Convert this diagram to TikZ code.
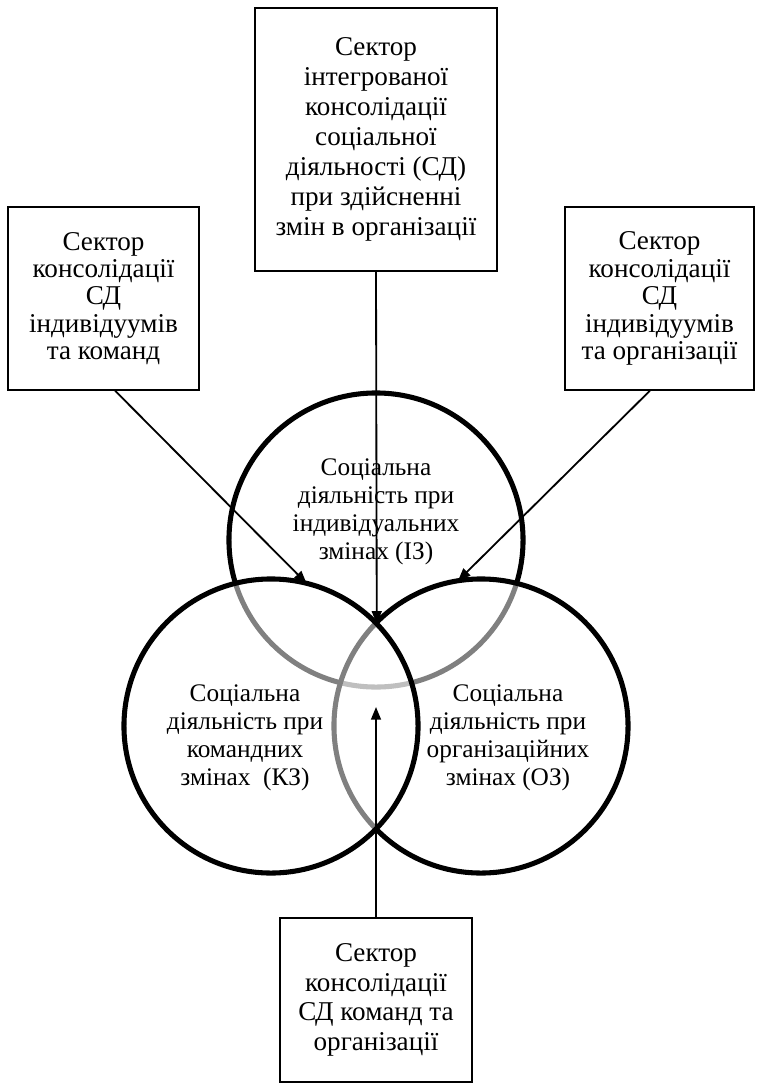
\documentclass[tikz,border=0pt]{standalone}
\usepackage{fontspec}
\setmainfont{Liberation Serif}
\usetikzlibrary{arrows.meta}

\begin{document}
\begin{tikzpicture}[x=0.025cm, y=-0.025cm,
    sector/.style={draw, line width=1pt, align=center, inner sep=0pt,
        font=\fontsize{19.3}{19.5}\selectfont},
    venn/.style={circle, draw, line width=3.6pt, minimum size=7.35cm,
        inner sep=0pt, outer sep=0pt},
    vtext/.style={align=center, font=\fontsize{18}{20}\selectfont},
    link/.style={line width=1.3pt, -{Triangle[length=9pt, width=7pt]}}]
% page frame
\useasboundingbox (0,0) rectangle (762,1086);

% three overlapping circles, the later ones half transparent
\node[venn, fill=white] (cIZ) at (376,540) {};
\node[venn, fill=white, fill opacity=0.5] (cOZ) at (481,726) {};
\node[venn, fill=white, fill opacity=0.5] (cKZ) at (271,726) {};

% texts inside the circles
\node[vtext] (tIZ) at (376,512) {Соціальна\\діяльність при\\індивідуальних\\змінах (ІЗ)};
\node[vtext] (tKZ) at (245,738) {Соціальна\\діяльність при\\командних\\змінах\ \ (КЗ)};
\node[vtext] (tOZ) at (508,738) {Соціальна\\діяльність при\\організаційних\\змінах (ОЗ)};

% sector boxes
\node[sector, minimum width=6.05cm, minimum height=6.575cm,
    font=\fontsize{19.3}{21.3}\selectfont] (sTop) at (376,139.5)
    {Сектор\\інтегрованої\\консолідації\\соціальної\\діяльності (СД)\\при здійсненні\\змін в організації};
\node[sector, minimum width=4.775cm, minimum height=4.575cm] (sLeft) at (103.5,298.5)
    {Сектор\\консолідації\\СД\\індивідуумів\\та команд};
\node[sector, minimum width=4.725cm, minimum height=4.575cm] (sRight) at (659.5,298.5)
    {Сектор\\консолідації\\СД\\індивідуумів\\та організації};
\node[sector, minimum width=4.8cm, minimum height=4.1cm,
    font=\fontsize{19.3}{21}\selectfont] (sBottom) at (376,1000)
    {Сектор\\консолідації\\СД команд та\\організації};

% arrows from the sectors into the circles
\coordinate (core) at (376,707);
\draw[link] (sTop.south) -- (cKZ.44.4);
\draw[link] ([xshift=0.29cm]sLeft.south) -- (cKZ.76.7);
\draw[link] ([xshift=-0.24cm]sRight.south) -- (cOZ.99.5);
\draw[link] (sBottom.north) -- (core);
\end{tikzpicture}
\end{document}
